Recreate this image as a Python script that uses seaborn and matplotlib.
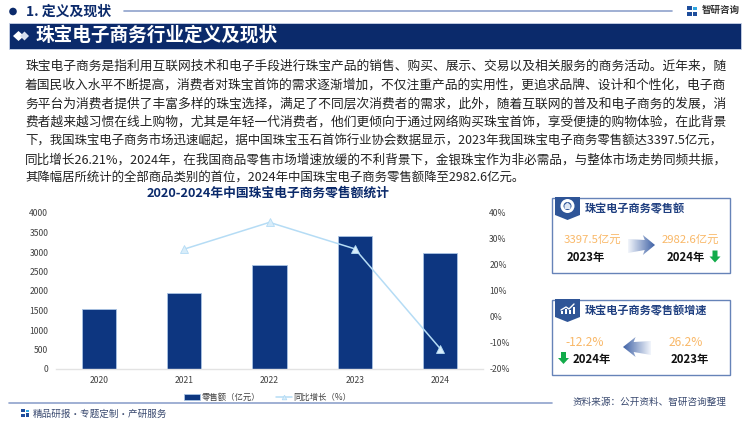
import matplotlib
matplotlib.use('Agg')
import matplotlib.pyplot as plt
from matplotlib.patches import Circle, Polygon, Rectangle
import numpy as np
import pandas as pd
import seaborn as sns

years = ['2020', '2021', '2022', '2023', '2024']
sales = [1540, 1950, 2660, 3397.5, 2982.6]
growth = [np.nan, 26.1, 36.4, 26.2, -12.2]
sales_ticks = [0, 500, 1000, 1500, 2000, 2500, 3000, 3500, 4000]
growth_ticks = [-20, -10, 0, 10, 20, 30, 40]

body_lines = [
    '珠宝电子商务是指利用互联网技术和电子手段进行珠宝产品的销售、购买、展示、交易以及相关服务的商务活动。近年来，随',
    '着国民收入水平不断提高，消费者对珠宝首饰的需求逐渐增加，不仅注重产品的实用性，更追求品牌、设计和个性化，电子商',
    '务平台为消费者提供了丰富多样的珠宝选择，满足了不同层次消费者的需求，此外，随着互联网的普及和电子商务的发展，消',
    '费者越来越习惯在线上购物，尤其是年轻一代消费者，他们更倾向于通过网络购买珠宝首饰，享受便捷的购物体验，在此背景',
    '下，我国珠宝电子商务市场迅速崛起，据中国珠宝玉石首饰行业协会数据显示，2023年我国珠宝电子商务零售额达3397.5亿元，',
    '同比增长26.21%，2024年，在我国商品零售市场增速放缓的不利背景下，金银珠宝作为非必需品，与整体市场走势同频共振，',
    '其降幅居所统计的全部商品类别的首位，2024年中国珠宝电子商务零售额降至2982.6亿元。',
]

NAVY = '#0b2a6b'
BAR = '#0d3680'
LINE = '#b5dcf5'
ORANGE = '#f9b868'
GREEN = '#12ab4a'
RULE = '#8fa2cc'
BOX = '#6683b8'

sns.set_theme(style='white')
plt.rcParams['font.family'] = ['Noto Sans CJK SC', 'DejaVu Sans']
plt.rcParams['axes.unicode_minus'] = False

fig = plt.figure(figsize=(7.5, 4.21), dpi=100)

# 픽셀 좌표용 배경 축
bg = fig.add_axes([0, 0, 1, 1], zorder=0)
bg.set_xlim(0, 750)
bg.set_ylim(421, 0)
bg.axis('off')


def label(x, y, s, size, color='#222222', weight='normal', ha='left'):
    return bg.text(x, y, s, fontsize=size, color=color, fontweight=weight,
                   ha=ha, va='center')


def grad_arrow(x0, x1, y, left=False):
    # 오른쪽/왼쪽 화살표, 꼬리 쪽으로 옅어짐
    xs = np.array([0, 0.62, 0.55, 1, 0.55, 0.62, 0])
    ys = np.array([-6, -5, -10, 0, 10, 5, 8])
    if left:
        px = x1 - xs * (x1 - x0)
    else:
        px = x0 + xs * (x1 - x0)
    poly = Polygon(np.column_stack([px, y + ys]), closed=True, fc='none', ec='none')
    bg.add_patch(poly)
    g = np.linspace(0, 1, 64).reshape(1, -1)
    if left:
        g = g[:, ::-1]
    cmap = matplotlib.colors.LinearSegmentedColormap.from_list('a', ['#f2f5fb', '#3f62a6'])
    im = bg.imshow(g, extent=[x0, x1, y + 12, y - 12], cmap=cmap, aspect='auto', zorder=2)
    im.set_clip_path(poly)
    bg.set_xlim(0, 750)
    bg.set_ylim(421, 0)


def down_arrow(x, y):
    pts = [(x - 2.5, y - 6), (x + 2.5, y - 6), (x + 2.5, y), (x + 5.5, y),
           (x, y + 6), (x - 5.5, y), (x - 2.5, y)]
    bg.add_patch(Polygon(pts, closed=True, fc=GREEN, ec='none'))


def badge(x0, x1, y0, y1):
    pts = [(x0, y0), (x1, y0), (x1, y1 - 5), ((x0 + x1) / 2, y1), (x0, y1 - 5)]
    bg.add_patch(Polygon(pts, closed=True, fc='#2f5597', ec='none'))


def logo(x, y, s=1.0):
    bg.add_patch(Rectangle((x, y), 4.5 * s, 4 * s, fc='#1f4e9c', ec='none'))
    bg.add_patch(Rectangle((x, y + 5.5 * s), 4.5 * s, 4 * s, fc='#1f4e9c', ec='none'))
    bg.add_patch(Rectangle((x + 5.5 * s, y + 1 * s), 4 * s, 2.5 * s, fc='#2fa7e0', ec='none'))
    bg.add_patch(Rectangle((x + 5.5 * s, y + 5 * s), 4 * s, 4.5 * s, fc='#1f4e9c', ec='none'))


# 상단 제목
bg.add_patch(Circle((13, 11.5), 3.8, fc=NAVY, ec='none'))
label(26, 11.5, '1. 定义及现状', 10, NAVY, 'bold')
bg.plot([124, 672], [10.5, 10.5], color=RULE, lw=1.2)
logo(687, 6, 1.1)
label(702, 10, '智研咨询', 6.8, '#333333', 'bold')

bg.add_patch(Rectangle((9, 23), 732, 26, fc=NAVY, ec='#c9d3e8', lw=0.6))
bg.add_patch(Polygon([(13, 36), (18.5, 31), (24, 36), (18.5, 41)], fc='white', ec='none'))
bg.add_patch(Polygon([(20, 36), (24.5, 31.5), (29, 36), (24.5, 40.5)], fc='#d7dfee', ec='none'))
label(35, 35.5, '珠宝电子商务行业定义及现状', 13.4, 'white', 'bold')

# 본문 (양쪽 맞춤)
renderer = fig.canvas.get_renderer()
for i, s in enumerate(body_lines):
    t = label(25, 66 + i * 18.75, s, 9.4, '#222222')
    w = t.get_window_extent(renderer).width
    if i < len(body_lines) - 1:
        t.set_fontsize(9.4 * 698 / w)
    else:
        t.set_fontsize(9.4 * 500 / w)

label(268, 193.5, '2020-2024年中国珠宝电子商务零售额统计', 9.2, NAVY, 'bold', 'center')

# 막대 + 꺾은선
df = pd.DataFrame({'year': years, 'sales': sales, 'growth': growth})
ax = fig.add_axes([56 / 750, 1 - 369 / 421, 427 / 750, 156 / 421], zorder=2)
ax.patch.set_alpha(0)
sns.barplot(data=df, x='year', y='sales', color=BAR, saturation=1, width=0.4,
            edgecolor='#a9c3e3', linewidth=0.6, ax=ax, label='零售额（亿元）')
ax.set_xlim(-0.5, 4.5)
ax.set_ylim(0, 4000)
ax.set_yticks(sales_ticks)
ax.set_xlabel('')
ax.set_ylabel('')
ax.tick_params(axis='x', length=0, labelsize=6.2, labelcolor='#404040', pad=5)
ax.tick_params(axis='y', length=0, labelsize=6.2, labelcolor='#404040', pad=5.5)
sns.despine(ax=ax, left=True, right=True, top=True)
ax.spines['bottom'].set_color('#e3e3e3')
ax.spines['bottom'].set_linewidth(1)

ax2 = ax.twinx()
ax2.patch.set_alpha(0)
ax2.plot(years, growth, color=LINE, lw=1.1, marker='^', ms=5.5, mfc='#d8edfa',
         mec=LINE, mew=0.6, label='同比增长（%）')
ax2.set_ylim(-20, 40)
ax2.set_yticks(growth_ticks)
ax2.set_yticklabels([f'{v}%' for v in growth_ticks])
ax2.set_ylabel('')
ax2.tick_params(axis='y', length=0, labelsize=6.2, labelcolor='#404040', pad=4.5)
ax2.grid(False)
ax.grid(False)
for sp in ax2.spines.values():
    sp.set_visible(False)

h1, l1 = ax.get_legend_handles_labels()
h2, l2 = ax2.get_legend_handles_labels()
if ax.get_legend() is not None:
    ax.get_legend().remove()
fig.legend(h1 + h2, l1 + l2, ncol=2, frameon=False, fontsize=6,
           loc='center', bbox_to_anchor=(267.5 / 750, 1 - 397 / 421),
           labelcolor='#404040', handlelength=1.9, handletextpad=0.2,
           columnspacing=1.9, borderpad=0, markerscale=0.6)

# 하단
bg.plot([9, 552], [402.5, 402.5], color=RULE, lw=1.2)
logo(21, 409, 0.85)
label(33, 414, '精品研报·专题定制·产研服务', 6.9, '#3a4a70')
label(573, 402, '资料来源：公开资料、智研咨询整理', 6.9, '#3a4a70')

# 오른쪽 카드 1
bg.add_patch(Rectangle((552, 198), 178, 75, fc='white', ec=BOX, lw=1))
badge(555, 580, 197, 220)
bg.add_patch(Circle((567.5, 206), 7, fc='white', ec='none'))
bg.add_patch(Circle((567.5, 206), 4, fc='#2f5597', ec='none'))
bg.add_patch(Polygon([(564.5, 209), (564.5, 205), (567.5, 202.5), (570.5, 205), (570.5, 209)],
                     fc='#dfe7f4', ec='none'))
label(585, 209, '珠宝电子商务零售额', 8, '#1f3f80', 'bold')
label(592, 240, '3397.5亿元', 8.2, ORANGE, 'normal', 'center')
label(586, 257, '2023年', 8.2, '#111111', 'bold', 'center')
grad_arrow(628, 655, 245)
label(690.5, 240, '2982.6亿元', 8.2, ORANGE, 'normal', 'center')
label(686, 257, '2024年', 8.2, '#111111', 'bold', 'center')
down_arrow(715, 256.5)

# 오른쪽 카드 2
bg.add_patch(Rectangle((552, 300), 178, 75, fc='white', ec=BOX, lw=1))
badge(555, 580, 299, 322)
bg.plot([561, 566, 569, 574], [310, 307, 309, 304], color='white', lw=1)
for bx, bh in zip([561, 565, 569, 573], [3, 5, 4, 7]):
    bg.add_patch(Rectangle((bx, 314 - bh), 2.2, bh, fc='white', ec='none'))
label(585, 311, '珠宝电子商务零售额增速', 8, '#1f3f80', 'bold')
label(585, 342, '-12.2%', 8.6, ORANGE, 'normal', 'center')
label(686, 342, '26.2%', 8.6, ORANGE, 'normal', 'center')
down_arrow(563.5, 358)
label(592, 359, '2024年', 8.2, '#111111', 'bold', 'center')
label(690, 359, '2023年', 8.2, '#111111', 'bold', 'center')
grad_arrow(623, 651, 347, left=True)

bg.set_xlim(0, 750)
bg.set_ylim(421, 0)
fig.savefig('out.png', dpi=100)
